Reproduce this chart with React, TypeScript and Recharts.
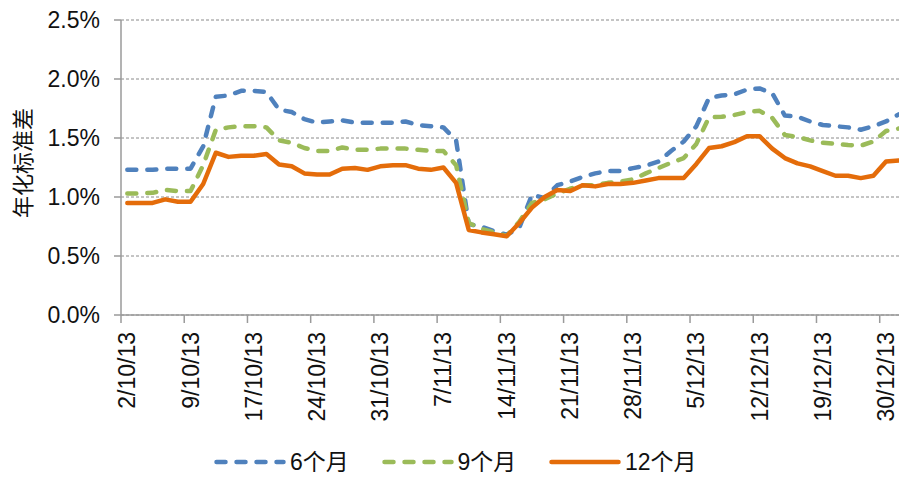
import React from 'react';
import { LineChart, Line, XAxis, YAxis, CartesianGrid, Legend } from 'recharts';

const dates = ["2/10/13","3/10/13","4/10/13","7/10/13","8/10/13","9/10/13","10/10/13","11/10/13","15/10/13","16/10/13","17/10/13","18/10/13","21/10/13","22/10/13","23/10/13","24/10/13","25/10/13","28/10/13","29/10/13","30/10/13","31/10/13","1/11/13","4/11/13","5/11/13","6/11/13","7/11/13","8/11/13","11/11/13","12/11/13","13/11/13","14/11/13","15/11/13","18/11/13","19/11/13","20/11/13","21/11/13","22/11/13","25/11/13","26/11/13","27/11/13","28/11/13","29/11/13","2/12/13","3/12/13","4/12/13","5/12/13","6/12/13","9/12/13","10/12/13","11/12/13","12/12/13","13/12/13","16/12/13","17/12/13","18/12/13","19/12/13","20/12/13","23/12/13","24/12/13","27/12/13","30/12/13","31/12/13"];

const tickLabels = ["2/10/13","9/10/13","17/10/13","24/10/13","31/10/13","7/11/13","14/11/13","21/11/13","28/11/13","5/12/13","12/12/13","19/12/13","30/12/13"];

const s6 = [1.23,1.23,1.23,1.24,1.24,1.24, 1.43,1.85,1.86,1.90,1.90,1.89, 1.74,1.72,1.66,1.63,1.64,1.65,1.63,1.63,1.63,1.63, 1.64,1.61,1.60,1.59,1.48,0.77,0.75,0.71,0.68,0.74, 1.02,0.99,1.10,1.13,1.17,1.20,1.22,1.22,1.245,1.265, 1.30,1.39,1.47,1.60,1.84,1.86,1.87,1.91,1.92,1.88, 1.69,1.68,1.64,1.61,1.60,1.59,1.57,1.60,1.64,1.70];
const s9 = [1.03,1.03,1.035,1.06,1.05,1.05, 1.27,1.57,1.59,1.60,1.60,1.59, 1.48,1.46,1.415,1.39,1.39,1.42,1.40,1.40,1.41,1.41, 1.41,1.40,1.39,1.39,1.27,0.78,0.73,0.70,0.67,0.79, 0.95,0.98,1.03,1.07,1.10,1.10,1.12,1.13,1.15,1.20, 1.245,1.29,1.33,1.45,1.675,1.68,1.695,1.72,1.73,1.67, 1.525,1.51,1.48,1.46,1.45,1.44,1.435,1.47,1.56,1.58];
const s12 = [0.95,0.95,0.95,0.98,0.96,0.96, 1.11,1.375,1.34,1.35,1.35,1.365, 1.275,1.26,1.20,1.19,1.19,1.24,1.245,1.23,1.26,1.27, 1.27,1.24,1.23,1.25,1.12,0.72,0.70,0.685,0.667,0.78, 0.91,1.00,1.06,1.05,1.10,1.09,1.11,1.11,1.12,1.14, 1.16,1.16,1.16,1.28,1.415,1.43,1.465,1.515,1.515,1.41, 1.33,1.285,1.26,1.22,1.18,1.18,1.16,1.18,1.30,1.31];

const yTicks = [0, 0.5, 1.0, 1.5, 2.0, 2.5];
const seriesNames = ["6个月", "9个月", "12个月"];

const data = dates.map((d, i) => ({ idx: i, date: d, m6: s6[i], m9: s9[i], m12: s12[i] }));
const xTicks = tickLabels.map((t) => dates.indexOf(t) - 0.5);

const FONT = '"Liberation Sans", Arial, "Noto Sans CJK SC", sans-serif';
const AXIS = '#9a9a9a';
const BLUE = '#4F81BD';
const GREEN = '#9BBB59';
const ORANGE = '#E46C0A';
const LW = 4.5;
const DASH = '9 11';

const CHART_W = 906;
const CHART_H = 477;
const Y_W = 121;
const M_RIGHT = 1;
const HALF_BAND = (CHART_W - Y_W - M_RIGHT) / dates.length / 2;

const XTick = (props: any) => {
  const { x, y, payload } = props;
  const i = Math.round(payload.value + 0.5);
  const label = dates[i];
  const tx = x + HALF_BAND;
  return (
    <text x={tx} y={y} transform={`rotate(-90, ${tx}, ${y})`} textAnchor="end" dy="0.35em"
      fontFamily={FONT} fontSize={23} fill="#111">
      {label}
    </text>
  );
};

const legendItems = [
  { name: seriesNames[0], color: BLUE, dash: DASH },
  { name: seriesNames[1], color: GREEN, dash: DASH },
  { name: seriesNames[2], color: ORANGE, dash: undefined as string | undefined },
];

const renderLegend = () => (
  <div style={{ display: 'flex', alignItems: 'center', height: 24, fontFamily: FONT, fontSize: 23, color: '#111' }}>
    {legendItems.map((it) => (
      <div key={it.name} style={{ display: 'flex', alignItems: 'center', width: 167.5, height: 24 }}>
        <svg width={72} height={12} style={{ display: 'block' }}>
          <line x1={2.5} y1={6} x2={69.5} y2={6} stroke={it.color} strokeWidth={LW}
            strokeDasharray={it.dash} strokeLinecap="round" />
        </svg>
        <span style={{ marginLeft: 4, whiteSpace: 'nowrap', lineHeight: '24px' }}>{it.name}</span>
      </div>
    ))}
  </div>
);

const YLabel = () => (
  <text x={23} y={163} transform="rotate(-90, 23, 163)" textAnchor="middle" dy="0.35em"
    fontFamily='"Noto Sans CJK SC", sans-serif' fontSize={22} fill="#111">
    年化标准差
  </text>
);

export default function App() {
  return (
    <div style={{ position: 'absolute', left: 0, top: 0, width: 899, height: 477, overflow: 'hidden', background: '#fff' }}>
      <LineChart width={CHART_W} height={CHART_H} data={data} margin={{ top: 20, right: M_RIGHT, left: 0, bottom: 0 }}>
        <CartesianGrid horizontal vertical={false} stroke="#8a8a8a" strokeDasharray="3 2" strokeWidth={1} />
        <XAxis dataKey="idx" type="number" domain={[-0.5, dates.length - 0.5]} ticks={xTicks} interval={0}
          height={162} tickSize={8} tickMargin={9} tick={<XTick />} stroke={AXIS} strokeWidth={1.5}
          tickLine={{ stroke: AXIS, strokeWidth: 1.5 }} allowDataOverflow />
        <YAxis type="number" domain={[0, 2.5]} ticks={yTicks} width={Y_W} tickSize={7} tickMargin={14}
          tickFormatter={(v: number) => v.toFixed(1) + '%'} stroke={AXIS} strokeWidth={1.5}
          tickLine={{ stroke: AXIS, strokeWidth: 1.5 }}
          tick={{ fontFamily: FONT, fontSize: 23, fill: '#111' }}
          label={<YLabel />} />
        <Legend layout="horizontal" verticalAlign="middle" align="center" content={renderLegend}
          wrapperStyle={{ left: 214, top: 450, width: 520, height: 24 }} />
        <Line type="linear" dataKey="m6" name={seriesNames[0]} stroke={BLUE} strokeWidth={LW} strokeDasharray={DASH}
          strokeLinecap="round" strokeLinejoin="round" dot={false} activeDot={false} isAnimationActive={false} />
        <Line type="linear" dataKey="m9" name={seriesNames[1]} stroke={GREEN} strokeWidth={LW} strokeDasharray={DASH}
          strokeLinecap="round" strokeLinejoin="round" dot={false} activeDot={false} isAnimationActive={false} />
        <Line type="linear" dataKey="m12" name={seriesNames[2]} stroke={ORANGE} strokeWidth={LW}
          strokeLinecap="round" strokeLinejoin="round" dot={false} activeDot={false} isAnimationActive={false} />
      </LineChart>
    </div>
  );
}
